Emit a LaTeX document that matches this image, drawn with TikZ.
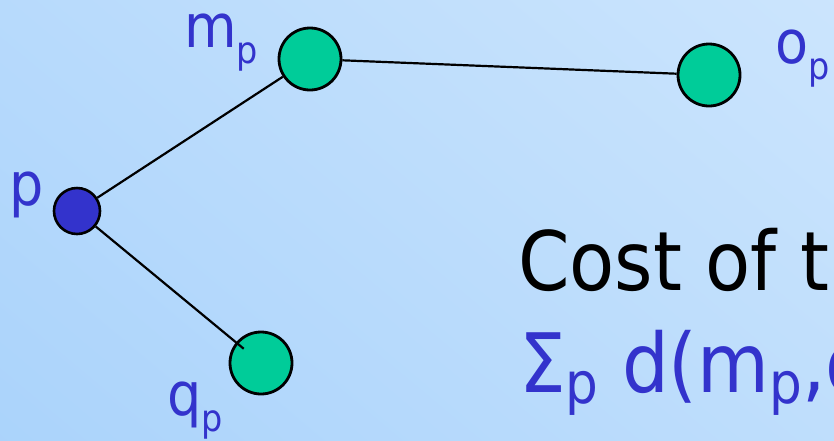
\documentclass[tikz,border=0pt]{standalone}
\usepackage{fontspec}
\setmainfont{DejaVu Sans}[FakeStretch=0.9]

\definecolor{txtblue}{RGB}{51,51,204}
\definecolor{nodegreen}{RGB}{0,204,153}
\definecolor{bglight}{RGB}{206,230,253}
\definecolor{bgdark}{RGB}{168,210,251}

\newcommand{\lowsub}[2][-0.27em]{\raisebox{#1}{\scalebox{0.62}{#2}}}
\newcommand{\bigsub}[1]{\raisebox{-0.14em}{\scalebox{0.7}{#1}}}

\tikzset{
  vertex/.style={circle, draw=black, line width=2.8, fill=nodegreen, inner sep=0pt, minimum size=62},
  root/.style={circle, draw=black, line width=2.6, fill=txtblue, inner sep=0pt, minimum size=46},
  edge/.style={line width=2.2, draw=black},
  lbl/.style={anchor=base west, inner sep=0pt, text=txtblue, font=\fontsize{60}{60}\selectfont},
  bigtext/.style={anchor=base west, inner sep=0pt, font=\fontsize{82}{82}\selectfont}
}

\begin{document}
\begin{tikzpicture}[x=1pt,y=1pt,yscale=-1]
\useasboundingbox (0,0) rectangle (834,440);
\clip (0,0) rectangle (834,440);

%Background
\shade [bottom color=bgdark, top color=bglight, shading angle=-40] (-200,-200) rectangle (1034,640);

%Circles
\node [root] (p) at (77,211) {};
\node [vertex] (mp) at (310,59) {};
\node [vertex] (op) at (709,75) {};
\node [vertex] (qp) at (261,363) {};

%Straight Lines
\draw [edge] (p) -- (mp);
\draw [edge] (mp) -- (op);
\draw [edge, shorten >=-10] (p) -- (qp);

% Text Node
\node [lbl] (plab) at (9,205) {p};
% Text Node
\node [lbl] (mplab) at (184,47) {m\lowsub{p}};
% Text Node
\node [lbl] (oplab) at (775,63) {o\lowsub{p}};
% Text Node
\node [lbl] (qplab) at (167,415) {q\lowsub{p}};
% Text Node
\node [bigtext] (cost) at (518,290) {Cost of t};
% Text Node
\node [bigtext, text=txtblue] (sum) at (519,392) {Σ\bigsub{p} d(m\bigsub{p},o};
\end{tikzpicture}
\end{document}
